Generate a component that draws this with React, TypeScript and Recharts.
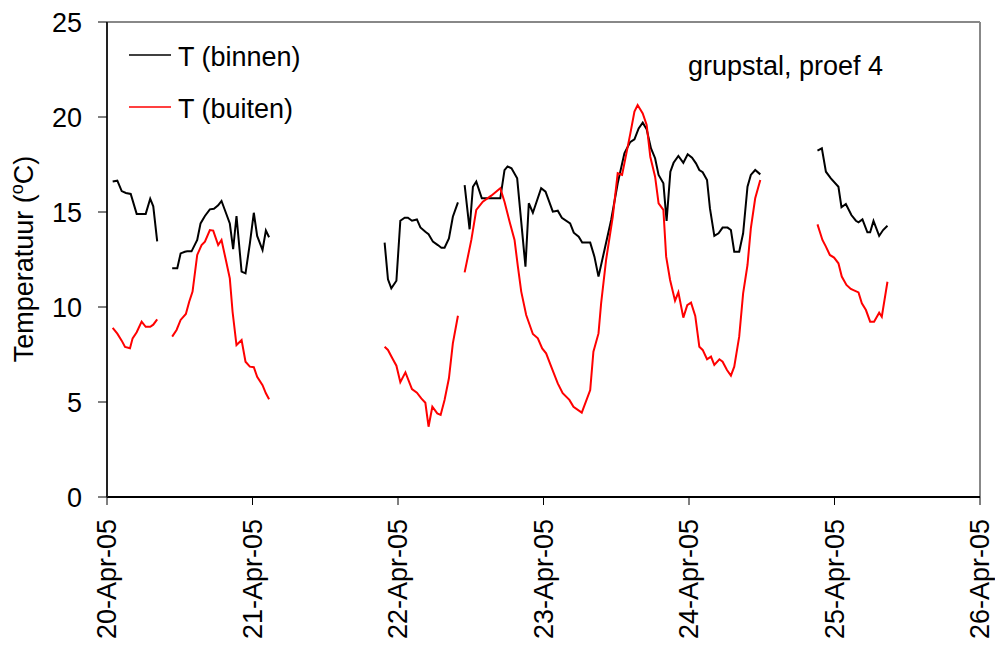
import React from 'react';
import { LineChart, Line, XAxis, YAxis, ReferenceLine, Customized } from 'recharts';

const FONT = '"Liberation Sans", Arial, Helvetica, sans-serif';
const FS = 27;

const dayLabels = ['20-Apr-05', '21-Apr-05', '22-Apr-05', '23-Apr-05', '24-Apr-05', '25-Apr-05', '26-Apr-05'];
const dayTicks = [0, 1, 2, 3, 4, 5, 6];
const tempTicks = [0, 5, 10, 15, 20, 25];

const seriesNames = ['T (binnen)', 'T (buiten)'];
const noteText = 'grupstal, proef 4';

// time in days since 20-Apr-05 00:00 ; null = gap in the logging
const binnenTime = [
  0.039, 0.071, 0.101, 0.130, 0.163, 0.204, 0.233, 0.266, 0.297, 0.318, 0.345,
  0.40,
  0.448, 0.483, 0.506, 0.535, 0.551, 0.581, 0.620, 0.643, 0.673, 0.707, 0.735, 0.764, 0.787, 0.817, 0.844, 0.867, 0.890, 0.925, 0.952, 0.982, 1.009, 1.032, 1.069, 1.092, 1.114,
  1.5,
  1.908, 1.931, 1.954, 1.989, 2.016, 2.046, 2.068, 2.096, 2.130, 2.154, 2.188, 2.210, 2.240, 2.274, 2.298, 2.320, 2.350, 2.377, 2.412,
  2.435,
  2.458, 2.492, 2.515, 2.538, 2.576, 2.618, 2.664, 2.703, 2.732, 2.753, 2.780, 2.819, 2.876, 2.899, 2.927, 2.984, 3.014, 3.064, 3.098, 3.126, 3.183, 3.208, 3.242, 3.266, 3.321, 3.350, 3.378, 3.419, 3.465, 3.510, 3.556, 3.595, 3.625, 3.654, 3.682, 3.709, 3.739, 3.767, 3.791, 3.824, 3.846, 3.872, 3.894, 3.927, 3.961, 3.991, 4.021, 4.048, 4.071, 4.094, 4.124, 4.144, 4.174, 4.203, 4.231, 4.265, 4.288, 4.311, 4.345, 4.372, 4.402, 4.425, 4.455, 4.490,
  4.7,
  4.883, 4.913, 4.941, 4.975, 5.027, 5.048, 5.078, 5.116, 5.147, 5.165, 5.192, 5.226, 5.245, 5.268, 5.307, 5.334, 5.364,
];
const binnenTemp = [
  16.6, 16.65, 16.1, 16.0, 15.95, 14.9, 14.9, 14.9, 15.7, 15.3, 13.45,
  null,
  12.04, 12.04, 12.82, 12.91, 12.93, 12.93, 13.53, 14.4, 14.79, 15.14, 15.17, 15.35, 15.58, 14.96, 14.4, 13.04, 14.79, 11.86, 11.77, 13.35, 14.96, 13.74, 13.0, 14.02, 13.67,
  null,
  13.39, 11.46, 10.98, 11.38, 14.54, 14.7, 14.7, 14.54, 14.61, 14.19, 13.96, 13.83, 13.44, 13.26, 13.12, 13.12, 13.61, 14.75, 15.51,
  null,
  16.42, 14.09, 16.33, 16.6, 15.72, 15.72, 15.72, 15.72, 17.2, 17.4, 17.3, 16.77, 12.12, 15.46, 14.96, 16.25, 16.07, 15.02, 15.07, 14.7, 14.4, 13.91, 13.7, 13.39, 13.39, 12.65, 11.6, 13.0, 14.58, 16.51, 18.09, 18.67, 18.82, 19.4, 19.7, 19.35, 18.35, 17.83, 16.95, 16.51, 14.53, 17.12, 17.59, 17.95, 17.59, 18.04, 17.86, 17.56, 17.21, 17.09, 16.68, 15.19, 13.74, 13.88, 14.18, 14.18, 14.05, 12.91, 12.91, 13.88, 16.33, 16.95, 17.21, 16.98,
  null,
  18.23, 18.35, 17.12, 16.77, 16.33, 15.25, 15.42, 14.84, 14.54, 14.46, 14.61, 13.93, 13.93, 14.53, 13.74, 14.05, 14.28,
];

const buitenTime = [
  0.039, 0.071, 0.101, 0.124, 0.158, 0.176, 0.204, 0.238, 0.266, 0.297, 0.318, 0.345,
  0.40,
  0.448, 0.478, 0.506, 0.542, 0.565, 0.588, 0.620, 0.650, 0.673, 0.707, 0.730, 0.764, 0.787, 0.817, 0.844, 0.863, 0.890, 0.925, 0.952, 0.982, 1.009, 1.032, 1.069, 1.092, 1.114,
  1.5,
  1.908, 1.931, 1.961, 1.989, 2.016, 2.051, 2.096, 2.130, 2.160, 2.188, 2.210, 2.236, 2.270, 2.293, 2.320, 2.350, 2.377, 2.412,
  2.435,
  2.458, 2.504, 2.538, 2.583, 2.641, 2.703, 2.732, 2.767, 2.801, 2.824, 2.847, 2.881, 2.927, 2.961, 2.991, 3.018, 3.053, 3.098, 3.132, 3.178, 3.206, 3.263, 3.321, 3.343, 3.378, 3.396, 3.430, 3.476, 3.510, 3.540, 3.572, 3.597, 3.625, 3.647, 3.682, 3.709, 3.734, 3.767, 3.791, 3.824, 3.843, 3.870, 3.904, 3.927, 3.961, 3.988, 4.014, 4.043, 4.071, 4.094, 4.124, 4.151, 4.174, 4.209, 4.231, 4.261, 4.288, 4.311, 4.345, 4.372, 4.402, 4.425, 4.455, 4.490,
  4.7,
  4.883, 4.917, 4.941, 4.968, 4.997, 5.027, 5.050, 5.082, 5.112, 5.165, 5.188, 5.216, 5.245, 5.272, 5.307, 5.325, 5.364,
];
const buitenTemp = [
  8.9, 8.6, 8.23, 7.9, 7.83, 8.35, 8.67, 9.23, 8.96, 8.96, 9.07, 9.35,
  null,
  8.44, 8.79, 9.32, 9.63, 10.28, 10.81, 12.74, 13.26, 13.44, 14.05, 14.02, 13.26, 13.53, 12.47, 11.51, 9.75, 8.0, 8.26, 7.12, 6.86, 6.83, 6.33, 5.89, 5.46, 5.14,
  null,
  7.91, 7.74, 7.3, 6.91, 6.04, 6.56, 5.68, 5.49, 5.19, 4.96, 3.7, 4.75, 4.4, 4.32, 5.11, 6.25, 8.09, 9.54,
  null,
  11.82, 13.53, 15.11, 15.54, 15.86, 16.25, 15.54, 14.49, 13.53, 12.12, 10.81, 9.58, 8.58, 8.35, 7.82, 7.56, 6.86, 5.98, 5.46, 5.11, 4.75, 4.44, 5.63, 7.65, 8.61, 10.19, 12.47, 14.75, 17.04, 16.95, 18.18, 19.14, 20.28, 20.63, 20.19, 19.58, 17.91, 16.86, 15.46, 15.11, 12.65, 11.42, 10.33, 10.77, 9.44, 10.1, 10.23, 9.53, 7.91, 7.74, 7.25, 7.39, 6.95, 7.25, 7.12, 6.68, 6.39, 6.86, 8.44, 10.72, 12.21, 14.14, 15.72, 16.68,
  null,
  14.35, 13.53, 13.18, 12.74, 12.6, 12.3, 11.6, 11.16, 10.95, 10.77, 10.19, 9.84, 9.23, 9.23, 9.7, 9.49, 11.33,
];

const toRows = (ts: number[], vs: (number | null)[]) => ts.map((t, i) => ({ t, v: vs[i] }));
const binnenRows = toRows(binnenTime, binnenTemp);
const buitenRows = toRows(buitenTime, buitenTemp);

const colors = ['#000000', '#ff0000'];

const XTick = (props: any) => {
  const { x, payload } = props;
  const y = 519;
  return (
    <text
      x={x}
      y={y}
      transform={`rotate(-90, ${x}, ${y})`}
      textAnchor="end"
      dominantBaseline="central"
      fontSize={FS}
      fontFamily={FONT}
      fill="#000"
    >
      {dayLabels[payload.value]}
    </text>
  );
};

const Extras = () => (
  <g fontFamily={FONT} fill="#000">
    <text
      x={33}
      y={259}
      transform="rotate(-90, 33, 259)"
      textAnchor="middle"
      fontSize={FS}
    >
      Temperatuur (<tspan fontSize={18} dy={-10}>o</tspan>
      <tspan fontSize={FS} dy={10}>C)</tspan>
    </text>
    {seriesNames.map((name, i) => (
      <g key={name}>
        <line x1={129} x2={171} y1={55 + i * 52} y2={55 + i * 52} stroke={colors[i]} strokeWidth={1.5} />
        <text x={178} y={66 + i * 52} fontSize={FS}>
          {name}
        </text>
      </g>
    ))}
    <text x={688} y={75} fontSize={FS}>
      {noteText}
    </text>
  </g>
);

export default function App() {
  return (
    <div style={{ position: 'absolute', left: 0, top: 0, background: '#fff' }}>
      <LineChart width={995} height={649} margin={{ top: 22, right: 15, left: 0, bottom: 0 }}>
        <XAxis
          type="number"
          dataKey="t"
          domain={[0, 6]}
          ticks={dayTicks}
          interval={0}
          allowDataOverflow
          height={152}
          tickSize={8}
          tick={<XTick />}
          axisLine={{ stroke: '#000', strokeWidth: 2 }}
          tickLine={{ stroke: '#000', strokeWidth: 1 }}
        />
        <YAxis
          type="number"
          domain={[0, 25]}
          ticks={tempTicks}
          interval={0}
          width={107}
          tickSize={9}
          tickMargin={16}
          tick={{ fontSize: FS, fill: '#000', fontFamily: FONT }}
          axisLine={{ stroke: '#222', strokeWidth: 2 }}
          tickLine={{ stroke: '#000', strokeWidth: 1 }}
        />
        <ReferenceLine y={25} stroke="#888" strokeWidth={2} />
        <ReferenceLine x={6} stroke="#888" strokeWidth={2} />
        <Line
          data={binnenRows}
          dataKey="v"
          name={seriesNames[0]}
          stroke={colors[0]}
          strokeWidth={2}
          dot={false}
          connectNulls={false}
          isAnimationActive={false}
          type="linear"
        />
        <Line
          data={buitenRows}
          dataKey="v"
          name={seriesNames[1]}
          stroke={colors[1]}
          strokeWidth={2}
          dot={false}
          connectNulls={false}
          isAnimationActive={false}
          type="linear"
        />
        <Customized component={Extras} />
      </LineChart>
    </div>
  );
}
